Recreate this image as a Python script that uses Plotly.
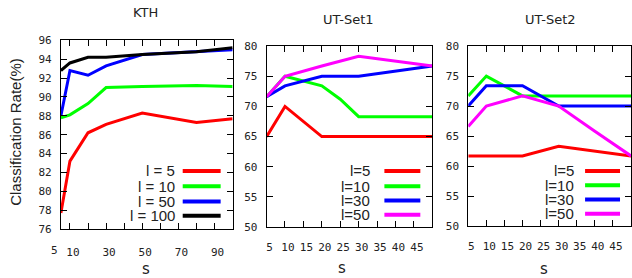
import plotly.graph_objects as go

W, H = 632, 278

# ---------------- data ----------------
kth_s = [5, 10, 20, 30, 50, 80, 100]
kth_l5 = [77.7, 83.2, 86.2, 87.1, 88.3, 87.3, 87.7]
kth_l10 = [87.8, 88.1, 89.3, 91.0, 91.1, 91.2, 91.1]
kth_l50 = [88.0, 92.8, 92.3, 93.3, 94.5, 94.8, 95.0]
kth_l100 = [92.8, 93.6, 94.2, 94.2, 94.5, 94.8, 95.2]

ut1_s = [5, 10, 20, 25, 30, 50]
ut1_l5 = [65.0, 70.0, 65.0, 65.0, 65.0, 65.0]
ut1_l10 = [71.6, 75.0, 73.4, 71.2, 68.3, 68.3]
ut1_l30 = [71.6, 73.4, 75.0, 75.0, 75.0, 76.7]
ut1_l50 = [71.6, 75.0, 76.7, 77.5, 78.3, 76.7]

ut2_s = [5, 10, 20, 30, 40, 50]
ut2_l5 = [61.7, 61.7, 61.7, 63.3, 62.5, 61.7]
ut2_l10 = [71.7, 75.0, 71.7, 71.7, 71.7, 71.7]
ut2_l30 = [70.0, 73.4, 73.4, 70.0, 70.0, 70.0]
ut2_l50 = [66.6, 70.0, 71.7, 70.0, 65.8, 61.7]

kth_names = ["l = 5", "l = 10", "l = 50", "l = 100"]
ut_names = ["l=5", "l=10", "l=30", "l=50"]
kth_colors = ["#ff0000", "#00ff00", "#0000ff", "#000000"]
ut_colors = ["#ff0000", "#00ff00", "#0000ff", "#ff00ff"]

kth_xticks = [5, 10, 20, 30, 40, 50, 60, 70, 80, 90]
kth_xtext = ["", "10", "", "30", "", "50", "", "70", "", "90"]  # "5" drawn separately (offset left)
kth_first_label = "5"
kth_yticks = [76, 78, 80, 82, 84, 86, 88, 90, 92, 94, 96]
ut_xticks = [5, 10, 15, 20, 25, 30, 35, 40, 45]
ut_xtext = ["5", "10", "15", "20", "25", "30", "35", "40", "45"]
ut_yticks = [50, 55, 60, 65, 70, 75, 80]

titles = ["KTH", "UT-Set1", "UT-Set2"]

# ---------------- layout helpers ----------------
def px(x):
    return x / W

def py(y):
    return 1 - y / H

fig = go.Figure()

panels = [
    dict(s=kth_s, ys=[kth_l5, kth_l10, kth_l50, kth_l100], names=kth_names, colors=kth_colors,
         xd=[px(61), px(233)], yd=[py(234), py(36)], xr=[5, 100], yr=[76, 96],
         xt=kth_xticks, xtt=kth_xtext, yt=kth_yticks, so=13),
    dict(s=ut1_s, ys=[ut1_l5, ut1_l10, ut1_l30, ut1_l50], names=ut_names, colors=ut_colors,
         xd=[px(267), px(433)], yd=[py(232), py(42)], xr=[5, 50], yr=[50, 80],
         xt=ut_xticks, xtt=ut_xtext, yt=ut_yticks, so=10),
    dict(s=ut2_s, ys=[ut2_l5, ut2_l10, ut2_l30, ut2_l50], names=ut_names, colors=ut_colors,
         xd=[px(469), px(632)], yd=[py(231), py(42)], xr=[5, 50], yr=[50, 80],
         xt=ut_xticks, xtt=ut_xtext, yt=ut_yticks, so=10),
]

tickfont = dict(family="DejaVu Sans Mono", size=11, color="#222")
layout = dict(
    width=W, height=H, margin=dict(l=0, r=0, t=0, b=0),
    paper_bgcolor="white", plot_bgcolor="white", showlegend=False,
)

for i, p in enumerate(panels):
    k = "" if i == 0 else str(i + 1)
    for ys, name, col in zip(p["ys"], p["names"], p["colors"]):
        fig.add_trace(go.Scatter(x=p["s"], y=ys, mode="lines", name=name,
                                 line=dict(color=col, width=3),
                                 xaxis="x" + k, yaxis="y" + k))
    common = dict(showgrid=False, zeroline=False, showline=True, linecolor="black",
                  linewidth=1, mirror="allticks", ticks="inside", ticklen=6,
                  tickcolor="black", tickfont=tickfont)
    layout["xaxis" + k] = dict(domain=p["xd"], range=p["xr"], anchor="y" + k,
                               tickmode="array", tickvals=p["xt"], ticktext=p["xtt"],
                               tickangle=0, ticklabelstandoff=p["so"], ticklabelshift=3,
                               **common)
    layout["yaxis" + k] = dict(domain=p["yd"], range=p["yr"], anchor="x" + k,
                               tickmode="array", tickvals=p["yt"],
                               ticklabelstandoff=6, **common)

fig.update_layout(**layout)

ann = []
# first KTH x tick label, nudged left of its tick as in the original
ann.append(dict(text=kth_first_label, x=kth_xticks[0], y=0, xref="x", yref="y domain",
                xanchor="center", yanchor="top", yshift=-13, xshift=-6, showarrow=False,
                font=tickfont))

# titles, axis titles
title_pos = [(146, 7), (349, 14), (551, 14)]
for t, (x, y) in zip(titles, title_pos):
    ann.append(dict(text=t, x=px(x), y=py(y), xref="paper", yref="paper",
                    xanchor="center", yanchor="middle", showarrow=False,
                    font=dict(family="DejaVu Sans", size=13, color="#222")))
s_pos = [(146, 276), (343, 275), (545, 276)]
for (x, y) in s_pos:
    ann.append(dict(text="s", x=px(x), y=py(y), xref="paper", yref="paper",
                    xanchor="center", yanchor="middle", showarrow=False,
                    font=dict(family="DejaVu Sans", size=15, color="#222")))
ann.append(dict(text="Classification Rate(%)", x=px(16), y=py(132), xref="paper",
                yref="paper", xanchor="center", yanchor="middle", showarrow=False,
                textangle=-90, font=dict(family="Liberation Sans", size=15, color="#222")))

# legends (text on left, sample line on right)
leg_cfg = [
    dict(tx=177, l0=183, l1=221, rows=[173, 189, 205, 220]),
    dict(tx=373, l0=385, l1=421, rows=[173, 189, 204, 219]),
    dict(tx=577, l0=586, l1=621, rows=[173, 188, 203, 218]),
]
shapes = []
for p, c in zip(panels, leg_cfg):
    for name, col, ry in zip(p["names"], p["colors"], c["rows"]):
        ann.append(dict(text=name, x=px(c["tx"]), y=py(ry), xref="paper", yref="paper",
                        xanchor="right", yanchor="middle", showarrow=False,
                        font=dict(family="Liberation Sans", size=15, color="#222")))
        shapes.append(dict(type="line", xref="paper", yref="paper",
                           x0=px(c["l0"]), x1=px(c["l1"]), y0=py(ry), y1=py(ry),
                           line=dict(color=col, width=4)))

fig.update_layout(annotations=ann, shapes=shapes)
fig.write_html("out.html", config={"displayModeBar": False})

# remove the browser's default page margin so the figure sits at (0, 0)
with open("out.html", "r", encoding="utf-8") as f:
    html = f.read()
html = html.replace("<head>", "<head><style>html,body{margin:0;padding:0;overflow:hidden}</style>", 1)
with open("out.html", "w", encoding="utf-8") as f:
    f.write(html)
